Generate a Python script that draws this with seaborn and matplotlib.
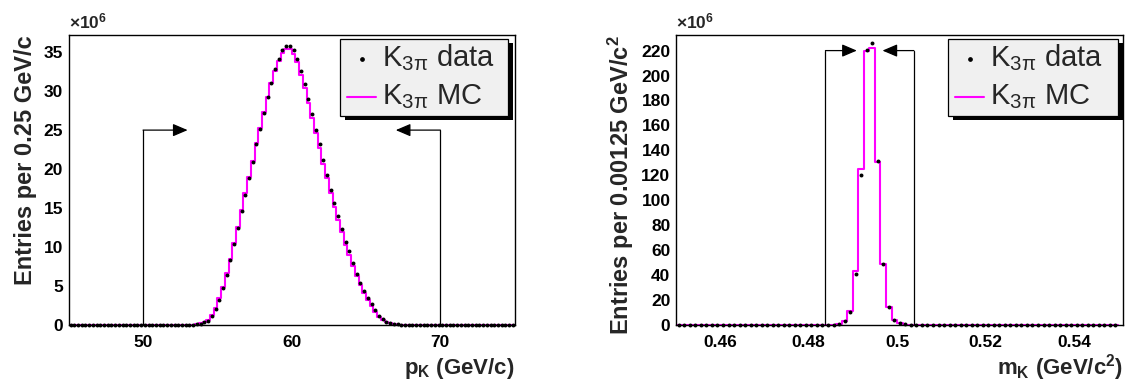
import numpy as np
import pandas as pd
import matplotlib
matplotlib.use("Agg")
import matplotlib.pyplot as plt
import seaborn as sns
from matplotlib.patches import Rectangle
from matplotlib.lines import Line2D
from matplotlib.ticker import MultipleLocator

# ---------------- data (values in units of 10^6 entries) ----------------
# left: kaon momentum, 0.25 GeV/c bins, 45..75
p_edges_range = (45.0, 75.0)
p_bin_width = 0.25
p_first_nonzero_center = 53.625
p_data = [0.08, 0.17, 0.34, 0.55, 1.15, 2.0, 3.19, 4.73, 6.47, 8.3, 10.34, 12.43,
          14.56, 16.69, 18.86, 20.94, 23.2, 25.2, 27.25, 29.25, 31.08, 32.78,
          34.14, 35.25, 35.84, 35.84,
          35.25, 34.14, 32.57, 30.86, 28.95, 27.03, 25.03, 23.2, 21.16, 19.24,
          17.37, 15.62, 13.92, 12.35, 10.64, 9.45, 7.96, 6.6, 5.41, 4.39, 3.41,
          2.64, 1.87, 1.15, 0.77, 0.43, 0.26, 0.17, 0.09, 0.05]
p_mc = [0.1, 0.2, 0.4, 0.7, 1.3, 2.2, 3.4, 4.9, 6.7, 8.5, 10.5, 12.6, 14.7,
        16.9, 19.0, 21.1, 23.3, 25.3, 27.3, 29.2, 31.0, 32.6, 33.9, 34.9,
        35.4, 35.4,
        34.8, 33.7, 32.1, 30.4, 28.5, 26.6, 24.6, 22.7, 20.7, 18.8, 16.9,
        15.2, 13.5, 11.9, 10.3, 9.0, 7.6, 6.3, 5.1, 4.1, 3.2, 2.4, 1.7, 1.05,
        0.65, 0.38, 0.2, 0.12, 0.06, 0.03]
p_cuts = [50.0, 70.0]
p_cut_height = 25.0
p_arrow_len = 3.0
p_xticks = [50, 60, 70]
p_yticks = [0, 5, 10, 15, 20, 25, 30, 35]
p_ylim = 37.2

# right: kaon mass, 0.00125 GeV/c^2 bins, 0.45..0.55
m_edges_range = (0.45, 0.55)
m_bin_width = 0.00125
m_first_nonzero_index = 28
m_data = [0.3, 0.8, 2.9, 10.6, 40.6, 120.4, 220.5, 226.0, 131.5, 48.6, 14.1,
          4.0, 1.5, 0.5, 0.2]
m_mc = [0.3, 1.0, 3.5, 11.0, 43.3, 124.9, 220.0, 222.1, 131.0, 49.2, 14.1,
        4.0, 1.3, 0.4, 0.15]
m_cuts = [0.4838, 0.5038]
m_cut_height = 220.0
m_arrow_len = 0.0071
m_xticks = [0.46, 0.48, 0.50, 0.52, 0.54]
m_xticklabels = ["0.46", "0.48", "0.5", "0.52", "0.54"]
m_yticks = list(range(0, 221, 20))
m_ylim = 232.5
m_xlim = (0.45, 0.5511)

legend_labels = [r"K$_{\mathrm{3\pi}}$ data", r"K$_{\mathrm{3\pi}}$ MC"]

# ---------------- helpers ----------------
def full_hist(lo, hi, bw, values, start_index):
    n = int(round((hi - lo) / bw))
    edges = lo + bw * np.arange(n + 1)
    centers = 0.5 * (edges[:-1] + edges[1:])
    vals = np.zeros(n)
    vals[start_index:start_index + len(values)] = values
    return edges, centers, vals

p_start = int(round((p_first_nonzero_center - p_bin_width / 2 - p_edges_range[0]) / p_bin_width))
p_edges, p_centers, p_data_full = full_hist(*p_edges_range, p_bin_width, p_data, p_start)
_, _, p_mc_full = full_hist(*p_edges_range, p_bin_width, p_mc, p_start)
m_edges, m_centers, m_data_full = full_hist(*m_edges_range, m_bin_width, m_data, m_first_nonzero_index)
_, _, m_mc_full = full_hist(*m_edges_range, m_bin_width, m_mc, m_first_nonzero_index)

# ---------------- style ----------------
sns.set_style("white")
plt.rcParams["font.family"] = ["Liberation Sans", "DejaVu Sans"]
plt.rcParams["mathtext.fontset"] = "custom"
plt.rcParams["mathtext.rm"] = "Liberation Sans"
plt.rcParams["mathtext.it"] = "Liberation Sans:italic"
plt.rcParams["mathtext.bf"] = "Liberation Sans:bold"

MAG = "#ff00ff"
W, H = 1128, 387
fig = plt.figure(figsize=(W / 100, H / 100), dpi=100)
fig.patch.set_facecolor("white")

ax1 = fig.add_axes([68.7 / W, 62 / H, 446 / W, 290 / H])
ax2 = fig.add_axes([676 / W, 62 / H, 447 / W, 290 / H])


def draw_panel(ax, edges, centers, data, mc, cuts, cut_h, alen, xlim, ylim):
    dfm = pd.DataFrame({"x": centers, "w": mc})
    sns.histplot(data=dfm, x="x", weights="w", bins=list(edges), element="step",
                 fill=False, color=MAG, linewidth=1.5, ax=ax, zorder=2)
    dfd = pd.DataFrame({"x": centers, "y": data})
    sns.scatterplot(data=dfd, x="x", y="y", color="black", s=8, linewidth=0,
                    ax=ax, zorder=4, clip_on=False, legend=False)
    # cut lines with arrows
    ax.plot([cuts[0], cuts[0]], [0, cut_h], color="black", lw=0.9, zorder=3)
    ax.plot([cuts[1], cuts[1]], [0, cut_h], color="black", lw=0.9, zorder=3)
    ap = dict(arrowstyle="-|>,head_length=0.75,head_width=0.32", color="black",
              lw=0.9, mutation_scale=12, shrinkA=0, shrinkB=0)
    ax.annotate("", xy=(cuts[0] + alen, cut_h), xytext=(cuts[0], cut_h), arrowprops=ap, zorder=3)
    ax.annotate("", xy=(cuts[1] - alen, cut_h), xytext=(cuts[1], cut_h), arrowprops=ap, zorder=3)
    ax.set_xlim(*xlim)
    ax.set_ylim(0, ylim)
    ax.set_xlabel("")
    ax.set_ylabel("")
    for s in ax.spines.values():
        s.set_visible(True)
        s.set_color("black")
        s.set_linewidth(1.0)
    ax.tick_params(axis="both", which="both", direction="in", top=False,
                   right=False, colors="black")
    ax.tick_params(axis="y", which="major", length=9.6, width=0.8, pad=4)
    ax.tick_params(axis="y", which="minor", length=4.8, width=0.8)
    ax.tick_params(axis="x", which="major", length=6.5, width=0.8, pad=7)
    ax.tick_params(axis="x", which="minor", length=3.2, width=0.8)


def draw_legend(ax, x0, x1, y0, y1):
    ax.add_patch(Rectangle((x0 + 0.011, y0 - 0.014), x1 - x0, y1 - y0,
                           transform=ax.transAxes, facecolor="black",
                           edgecolor="none", zorder=6, clip_on=False))
    ax.add_patch(Rectangle((x0, y0), x1 - x0, y1 - y0, transform=ax.transAxes,
                           facecolor="#f0f0f0", edgecolor="black", lw=0.9,
                           zorder=7, clip_on=False))
    ax.add_line(Line2D([0.657], [0.918], transform=ax.transAxes, marker="o",
                       ms=2.4, color="black", lw=0, zorder=8))
    ax.add_line(Line2D([0.624, 0.688], [0.787, 0.787], transform=ax.transAxes,
                       color=MAG, lw=1.5, zorder=8))
    ax.text(0.703, 0.892, legend_labels[0], transform=ax.transAxes,
            fontsize=21, va="baseline", ha="left", zorder=9)
    ax.text(0.703, 0.761, legend_labels[1], transform=ax.transAxes,
            fontsize=21, va="baseline", ha="left", zorder=9)


# ---------- left panel ----------
draw_panel(ax1, p_edges, p_centers, p_data_full, p_mc_full, p_cuts,
           p_cut_height, p_arrow_len, p_edges_range, p_ylim)
ax1.set_xticks(p_xticks, labels=[str(t) for t in p_xticks], fontweight="bold", fontsize=12.5)
ax1.set_yticks(p_yticks, labels=[str(t) for t in p_yticks], fontweight="bold", fontsize=12.5)
ax1.xaxis.set_minor_locator(MultipleLocator(2))
ax1.yaxis.set_minor_locator(MultipleLocator(1))
ax1.text(-0.097, 1.0, "Entries per 0.25 GeV/c", rotation=90, ha="center",
         va="top", fontsize=17, fontweight="bold", transform=ax1.transAxes)
ax1.text(1.0, -0.17, r"p$_{\mathbf{K}}$ (GeV/c)", ha="right", va="baseline",
         fontsize=16, fontweight="bold", transform=ax1.transAxes)
ax1.text(0.0, 1.012, r"×10$^{\mathbf{6}}$", ha="left", va="bottom",
         fontsize=12.5, fontweight="bold", transform=ax1.transAxes)
draw_legend(ax1, 0.608, 0.986, 0.721, 0.986)

# ---------- right panel ----------
draw_panel(ax2, m_edges, m_centers, m_data_full, m_mc_full, m_cuts,
           m_cut_height, m_arrow_len, m_xlim, m_ylim)
ax2.set_xticks(m_xticks, labels=m_xticklabels, fontweight="bold", fontsize=12.5)
ax2.set_yticks(m_yticks, labels=[str(t) for t in m_yticks], fontweight="bold", fontsize=12.5)
ax2.xaxis.set_minor_locator(MultipleLocator(0.002))
ax2.yaxis.set_minor_locator(MultipleLocator(4))
ax2.text(-0.124, 1.0, r"Entries per 0.00125 GeV/c$^{\mathbf{2}}$", rotation=90,
         ha="center", va="top", fontsize=17, fontweight="bold",
         transform=ax2.transAxes)
ax2.text(1.0, -0.17, r"m$_{\mathbf{K}}$ (GeV/c$^{\mathbf{2}}$)", ha="right",
         va="baseline", fontsize=16, fontweight="bold", transform=ax2.transAxes)
ax2.text(0.0, 1.012, r"×10$^{\mathbf{6}}$", ha="left", va="bottom",
         fontsize=12.5, fontweight="bold", transform=ax2.transAxes)
draw_legend(ax2, 0.609, 0.988, 0.721, 0.986)

fig.savefig("out.png", dpi=100, facecolor="white")
